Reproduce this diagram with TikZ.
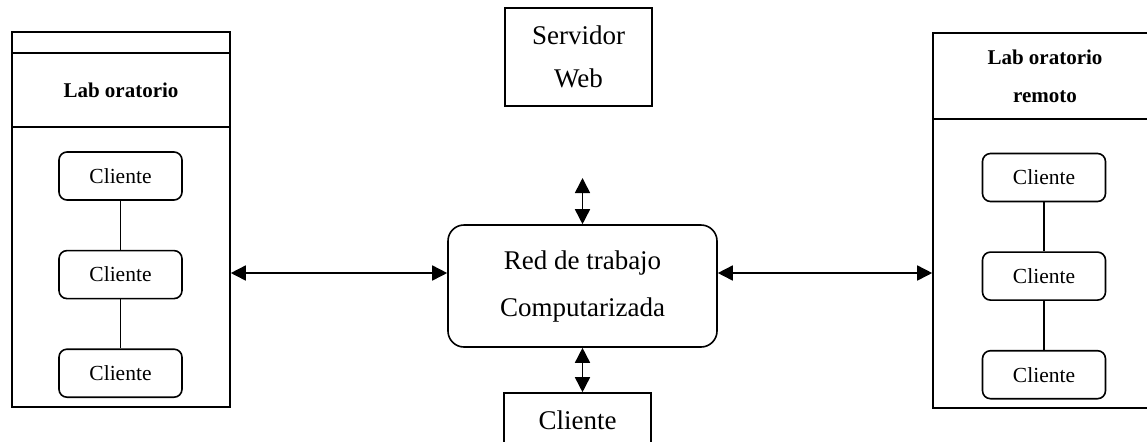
\documentclass[tikz,border=0pt]{standalone}
\usepackage{fontspec}
\setmainfont{Liberation Serif}
\usetikzlibrary{positioning, arrows.meta}

\begin{document}
\begin{tikzpicture}[x=0.5pt, y=-0.5pt,
    caja/.style={draw, line width=0.8pt, minimum width=73.5pt, inner sep=0pt,
        align=center, font=\fontsize{13.5}{21.5}\selectfont},
    cliente/.style={draw, line width=0.8pt, rounded corners=4pt, minimum width=61.5pt,
        minimum height=24pt, inner sep=0pt, font=\fontsize{10.75}{13}\selectfont},
    panel/.style={draw, line width=0.8pt, minimum height=187.5pt, inner sep=0pt},
    titulo/.style={align=center, font=\fontsize{10.5}{19}\bfseries\selectfont},
    flecha/.style={line width=0.8pt,
        {Triangle[length=7.5pt,width=7.5pt]}-{Triangle[length=7.5pt,width=7.5pt]}},
    enlace/.style={line width=0.8pt}]
    \useasboundingbox (0,0) rectangle (1147,441);

    % laboratorio local
    \node[panel, minimum width=109pt] (labizq) at (121,219.5) {};
    \draw[enlace] (labizq.west |- 0,53) -- (labizq.east |- 0,53);
    \draw[enlace] (labizq.west |- 0,127) -- (labizq.east |- 0,127);
    \node[titulo] (tituloizq) at (121,90) {Lab oratorio};
    \node[cliente] (c1) at (120.5,176) {Cliente};
    \node[cliente, below=24.5pt of c1] (c2) {Cliente};
    \node[cliente, below=24.5pt of c2] (c3) {Cliente};
    \draw[enlace] (c1) -- (c2);
    \draw[enlace] (c2) -- (c3);

    % laboratorio remoto
    \node[panel, minimum width=112pt] (labder) at (1045,220.5) {};
    \draw[enlace] (labder.west |- 0,119) -- (labder.east |- 0,119);
    \node[titulo] (tituloder) at (1045,76) {Lab oratorio\\remoto};
    \node[cliente] (c4) at (1044,177.5) {Cliente};
    \node[cliente, below=24.5pt of c4] (c5) {Cliente};
    \node[cliente, below=24.5pt of c5] (c6) {Cliente};
    \draw[enlace] (c4) -- (c5);
    \draw[enlace] (c5) -- (c6);

    % centro
    \node[caja, minimum height=49pt] (servidor) at (578.5,57) {Servidor\\Web};
    \node[draw, line width=0.8pt, rounded corners=8pt, minimum width=134.5pt,
        minimum height=61pt, align=center, font=\fontsize{13.5}{23.5}\selectfont]
        (red) at (582.5,286) {Red de trabajo\\Computarizada};
    \node[caja, minimum height=27.5pt] (clienteweb) at (577.5,420.5) {Cliente};

    \coordinate (topflecha) at (582.5,178);
    \coordinate (nivel) at (0,273);
    \draw[flecha] (topflecha) -- (red.north);
    \draw[flecha] (red.south) -- (red.south |- clienteweb.north);
    \draw[flecha] (labizq.east |- nivel) -- (red.west |- nivel);
    \draw[flecha] (red.east |- nivel) -- (labder.west |- nivel);
\end{tikzpicture}
\end{document}
